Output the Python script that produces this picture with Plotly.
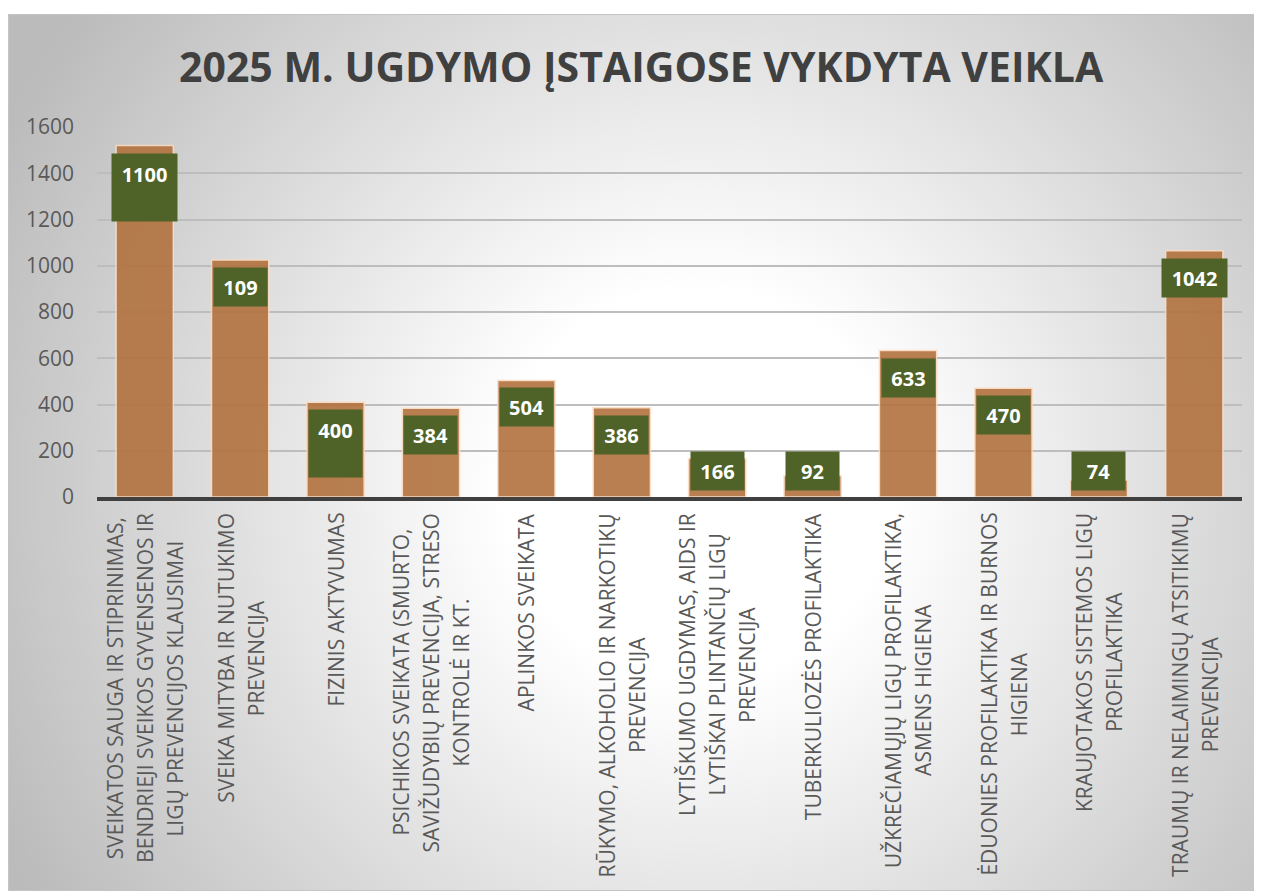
import base64
import plotly.graph_objects as go

# ---------------- data ----------------
category_lines = [
    ["SVEIKATOS SAUGA IR STIPRINIMAS,", "BENDRIEJI SVEIKOS GYVENSENOS IR", "LIGŲ PREVENCIJOS KLAUSIMAI"],
    ["SVEIKA MITYBA IR NUTUKIMO", "PREVENCIJA"],
    ["FIZINIS AKTYVUMAS"],
    ["PSICHIKOS SVEIKATA (SMURTO,", "SAVIŽUDYBIŲ PREVENCIJA, STRESO", "KONTROLĖ IR KT."],
    ["APLINKOS SVEIKATA"],
    ["RŪKYMO, ALKOHOLIO IR NARKOTIKŲ", "PREVENCIJA"],
    ["LYTIŠKUMO UGDYMAS, AIDS IR", "LYTIŠKAI PLINTANČIŲ LIGŲ", "PREVENCIJA"],
    ["TUBERKULIOZĖS PROFILAKTIKA"],
    ["UŽKREČIAMŲJŲ LIGŲ PROFILAKTIKA,", "ASMENS HIGIENA"],
    ["ĖDUONIES PROFILAKTIKA IR BURNOS", "HIGIENA"],
    ["KRAUJOTAKOS SISTEMOS LIGŲ", "PROFILAKTIKA"],
    ["TRAUMŲ IR NELAIMINGŲ ATSITIKIMŲ", "PREVENCIJA"],
]
categories = [" ".join(l) for l in category_lines]
bar_values = [1520, 1025, 410, 384, 504, 386, 166, 92, 633, 470, 74, 1065]
label_texts = ["1100", "109", "400", "384", "504", "386", "166", "92", "633", "470", "74", "1042"]
tall_label = [True, False, True, False, False, False, False, False, False, False, False, False]
y_ticks = [0, 200, 400, 600, 800, 1000, 1200, 1400, 1600]
title_text = "2025 M. UGDYMO ĮSTAIGOSE VYKDYTA VEIKLA"

# ---------------- layout geometry (page has an 8px body margin) ----------------
W, H = 1254, 883
ML, MR, MT, MB = 89, 20, 119, 394
PW, PH = W - ML - MR, H - MT - MB
FX0, FY0 = 0, 6           # chart frame top-left (px, figure coords)
FW, FH = W - FX0, H - FY0

svg = f'''<svg xmlns="http://www.w3.org/2000/svg" width="{FW}" height="{FH}" viewBox="0 0 {FW} {FH}">
<defs><radialGradient id="g" gradientUnits="userSpaceOnUse" cx="690" cy="470" r="780">
<stop offset="0" stop-color="#ffffff"/><stop offset="0.25" stop-color="#ffffff"/>
<stop offset="1" stop-color="#bbbbbb"/></radialGradient></defs>
<rect x="0" y="0" width="{FW}" height="{FH}" fill="url(#g)"/>
<rect x="0.5" y="0.5" width="{FW-1}" height="{FH-1}" fill="none" stroke="#c4c4c4" stroke-width="1"/>
</svg>'''
bg_src = "data:image/svg+xml;base64," + base64.b64encode(svg.encode("utf-8")).decode("ascii")

fig = go.Figure()
fig.add_trace(go.Bar(
    x=categories, y=bar_values, width=0.6,
    marker=dict(color="rgb(178,114,62)", opacity=0.9,
                line=dict(color="rgba(252,220,195,0.95)", width=1.5)),
    hoverinfo="x+y", showlegend=False,
))

annotations = []
# data labels (dark green boxes)
for cat, v, txt, tall in zip(categories, bar_values, label_texts, tall_label):
    anchor = max(v, 230)
    annotations.append(dict(
        x=cat, y=anchor, xref="x", yref="y", yanchor="top", xanchor="center", yshift=-7,
        text=(f"<b>{txt}</b><br> " if tall else f"<b>{txt}</b>"),
        showarrow=False, bgcolor="#4F6228", borderpad=0,
        width=(65 if len(txt) >= 4 else 53), height=(67 if tall else 38),
        valign="middle", align="center",
        font=dict(family="Open Sans", size=20, color="white"),
    ))

# category labels, rotated, lines spaced 30 px apart
FS = 21
LINE_GAP = 30
HIDE = '<span style="color:rgba(0,0,0,0)">{}</span>'
for cat, lines in zip(categories, category_lines):
    n = len(lines)
    for j in range(n):
        parts = [ln if k == j else HIDE.format(ln) for k, ln in enumerate(lines)]
        annotations.append(dict(
            x=cat, y=0, xref="x", yref="paper", yanchor="top", xanchor="center",
            yshift=-14, xshift=(j - (n - 1) / 2) * (LINE_GAP - 1.3 * FS),
            text="<br>".join(parts), textangle=-90, showarrow=False, align="center",
            font=dict(family="Open Sans", size=FS, color="#595959"),
        ))

# title (positioned in figure px, converted to paper coords)
annotations.append(dict(
    x=(633 - ML) / PW, y=(H - MB - 58) / PH, xref="paper", yref="paper",
    xanchor="center", yanchor="middle",
    text=f"<b>{title_text}</b>", showarrow=False,
    font=dict(family="Open Sans", size=41, color="#404040"),
))

fig.update_layout(
    width=W, height=H,
    margin=dict(l=ML, r=MR, t=MT, b=MB),
    paper_bgcolor="white", plot_bgcolor="rgba(0,0,0,0)",
    annotations=annotations,
    images=[dict(source=bg_src, xref="paper", yref="paper",
                 x=(FX0 - ML) / PW, y=(H - MB - FY0) / PH,
                 sizex=FW / PW, sizey=FH / PH, sizing="stretch",
                 xanchor="left", yanchor="top", layer="below")],
    xaxis=dict(showticklabels=False, showgrid=False, showline=True,
               linecolor="#404040", linewidth=4, ticks="", zeroline=False),
    yaxis=dict(range=[0, 1600], tickvals=y_ticks, showgrid=True,
               gridcolor="#BDBDBD", gridwidth=1.5, zeroline=False, showline=False,
               tickfont=dict(family="Open Sans", size=21, color="#595959"),
               ticks="", ticklabelstandoff=22),
)

fig.write_html("out.html")
